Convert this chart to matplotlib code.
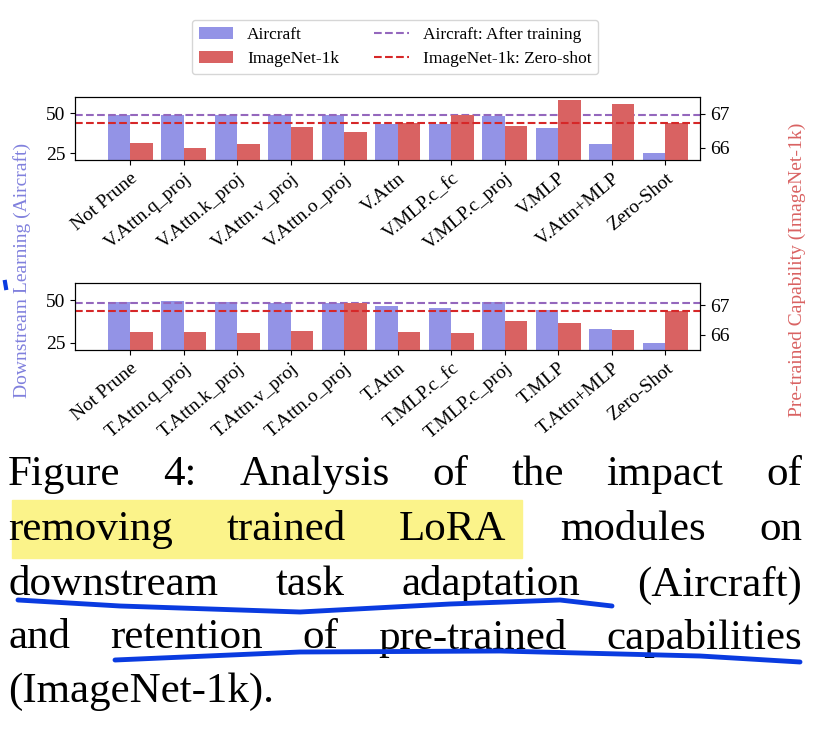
import matplotlib
matplotlib.use("Agg")
import matplotlib.pyplot as plt
import numpy as np

plt.rcParams['font.family'] = ['Liberation Serif', 'DejaVu Serif']

top_labels = ["Not Prune", "V.Attn.q_proj", "V.Attn.k_proj", "V.Attn.v_proj", "V.Attn.o_proj",
              "V.Attn", "V.MLP.c_fc", "V.MLP.c_proj", "V.MLP", "V.Attn+MLP", "Zero-Shot"]
top_air = [48.8, 48.8, 48.8, 48.8, 48.8, 43.4, 43.4, 48.5, 41.0, 31.0, 25.2]
top_img = [66.15, 66.0, 66.1, 66.6, 66.46, 66.73, 66.97, 66.64, 67.41, 67.3, 66.73]
top_air_line = 48.8
top_img_line = 66.73

bot_labels = ["Not Prune", "T.Attn.q_proj", "T.Attn.k_proj", "T.Attn.v_proj", "T.Attn.o_proj",
              "T.Attn", "T.MLP.c_fc", "T.MLP.c_proj", "T.MLP", "T.Attn+MLP", "Zero-Shot"]
bot_air = [49.0, 49.6, 49.0, 48.6, 48.6, 46.6, 45.6, 49.0, 44.6, 33.2, 24.8]
bot_img = [66.1, 66.1, 66.07, 66.14, 67.07, 66.1, 66.07, 66.48, 66.39, 66.17, 66.8]
bot_air_line = 48.6
bot_img_line = 66.79

BLUE = '#9393e6'
RED = '#d96262'
PURPLE = '#9467bd'
DRED = '#d62728'

fig = plt.figure(figsize=(8.2, 7.31), dpi=100)
W, H = 820, 731

def panel(rect, labels, air, img, aline, iline, ylim_r):
    ax = fig.add_axes(rect)
    ax2 = ax.twinx()
    x = np.arange(len(labels))
    w = 0.42
    ax.bar(x - w/2, air, w, color=BLUE, label='Aircraft')
    ax2.bar(x + w/2, img, w, color=RED, label='ImageNet-1k')
    ax.axhline(aline, color=PURPLE, ls='--', lw=1.5, label='Aircraft: After training')
    ax2.axhline(iline, color=DRED, ls='--', lw=1.5, label='ImageNet-1k: Zero-shot')
    ax.set_ylim(20.8, 60.2)
    ax2.set_ylim(*ylim_r)
    ax.set_yticks([25, 50])
    ax2.set_yticks([66, 67])
    ax.set_xticks(x)
    ax.set_xticklabels(labels, rotation=40, ha='right', rotation_mode='anchor', fontsize=14)
    ax.tick_params(labelsize=14)
    ax2.tick_params(labelsize=14)
    ax.set_xlim(-1.03, 10.65)
    return ax, ax2

ax_t, ax_t2 = panel([75/W, 1-160/H, 625/W, 63/H], top_labels, top_air, top_img,
                    top_air_line, top_img_line, (65.64, 67.5))
ax_b, ax_b2 = panel([75/W, 1-350/H, 625/W, 67/H], bot_labels, bot_air, bot_img,
                    bot_air_line, bot_img_line, (65.49, 67.74))

h1, lab1 = ax_t.get_legend_handles_labels()
h2, lab2 = ax_t2.get_legend_handles_labels()
handles = [h1[1], h2[1], h1[0], h2[0]]
labs = [lab1[1], lab2[1], lab1[0], lab2[0]]
fig.legend(handles, labs, ncol=2, loc='center', bbox_to_anchor=(395/W, 1-47/H),
           fontsize=12.5, frameon=True, edgecolor='#cccccc')

fig.text(22/W, 1-270/H, 'Downstream Learning (Aircraft)', rotation=90, va='center', ha='center',
         color='#8080dd', fontsize=14)
fig.text(797/W, 1-270/H, 'Pre-trained Capability (ImageNet-1k)', rotation=90, va='center', ha='center',
         color='#d96262', fontsize=14)

ov = fig.add_axes([0, 0, 1, 1], zorder=-1)
ov.set_xlim(0, W); ov.set_ylim(H, 0); ov.axis('off')
ov.add_patch(plt.Rectangle((12, 500), 510, 58, color='#fbf38a', zorder=0))

lines = ["Figure 4:  Analysis of the impact of",
         "removing trained LoRA modules on",
         "downstream task adaptation (Aircraft)",
         "and retention of pre-trained capabilities",
         "(ImageNet-1k)."]
ys = [475, 530, 585, 638, 692]
FS = 31
renderer = fig.canvas.get_renderer()
x0, x1 = 8, 802
for i, (t, y) in enumerate(zip(lines, ys)):
    words = t.split()
    if i == len(lines) - 1:
        fig.text(x0/W, 1-y/H, t, fontsize=FS, va='center', ha='left')
        continue
    arts = [fig.text(0, 1-y/H, wd, fontsize=FS, va='center', ha='left') for wd in words]
    widths = [a.get_window_extent(renderer).width for a in arts]
    gap = (x1 - x0 - sum(widths)) / (len(words) - 1)
    xp = x0
    for a, wdt in zip(arts, widths):
        a.set_x(xp / W)
        xp += wdt + gap

ov2 = fig.add_axes([0, 0, 1, 1], zorder=5)
ov2.set_xlim(0, W); ov2.set_ylim(H, 0); ov2.axis('off')
ov2.plot([18, 120, 300, 450, 560, 612], [600, 606, 612, 604, 600, 606], color='#0a3be0', lw=3.5, solid_capstyle='round')
ov2.plot([115, 300, 500, 700, 800], [660, 652, 651, 656, 662], color='#0a3be0', lw=3.5, solid_capstyle='round')
ov2.plot([5, 6], [282, 288], color='#0a3be0', lw=3)

fig.savefig('out.png', dpi=100)
